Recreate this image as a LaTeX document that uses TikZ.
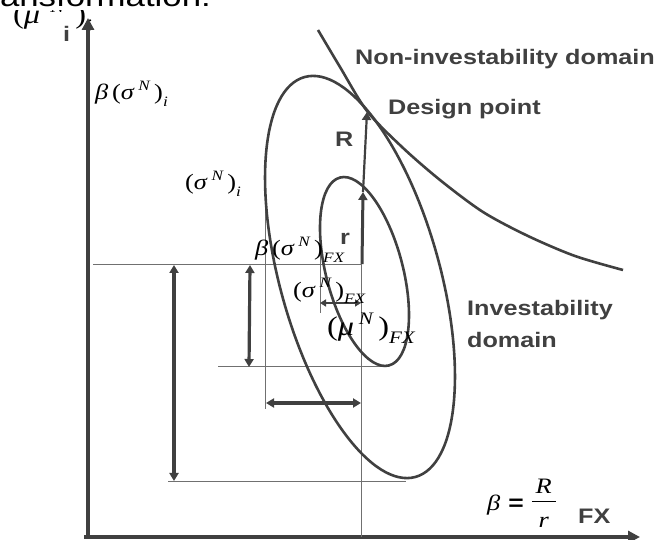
\documentclass[tikz,border=0pt]{standalone}
\usepackage{fontspec}
\setsansfont{Liberation Sans}
\newfontfamily\capfont[FakeStretch=1.2]{Liberation Sans}
\newfontfamily\eqfont[FakeStretch=1.2]{Liberation Serif}
\usetikzlibrary{arrows.meta}
\definecolor{inkgray}{HTML}{404040}
\definecolor{linegray}{HTML}{707070}
\newcommand{\up}[1]{\raisebox{0.42em}{\scalebox{0.65}{#1}}}
\newcommand{\dn}[1]{\raisebox{-0.3em}{\scalebox{0.65}{#1}}}
\tikzset{
  contour/.style={draw=inkgray, line width=2.6pt},
  guide/.style={draw=linegray, line width=0.9pt},
  span/.style={{Triangle[length=8pt,width=9pt]}-{Triangle[length=8pt,width=9pt]}, draw=inkgray, line width=3.2pt},
  ray/.style={-{Triangle[length=8pt,width=9pt]}, draw=inkgray, line width=3pt},
  axis/.style={-{Triangle[length=12pt,width=12pt]}, draw=inkgray, line width=4pt},
  caption/.style={font=\fontsize{21}{32}\selectfont\capfont\bfseries, text=inkgray, inner sep=0pt},
  formula/.style={font=\fontsize{22}{24}\selectfont\eqfont, inner sep=0pt, anchor=west},
  bigformula/.style={formula, font=\fontsize{27}{30}\selectfont\eqfont}
}
\begin{document}
\begin{tikzpicture}[x=1pt, y=-1pt]
\useasboundingbox (0,0) rectangle (657,540);
\clip (0,0) rectangle (657,540);

% Clipped slide text at the top (its box hides the top of the label).
\node[bigformula] (mui) at (13,16) {(\textit{μ}\hspace{10pt}\up{\textit{N}}\hspace{10pt})\dn{\textit{i}}};
\node[font=\fontsize{29}{32}\selectfont\capfont, text=black, fill=white, inner sep=0pt, outer sep=0pt, anchor=base west] (slidetitle) at (0,7) {ansformation:};
\fill[white] (0,7) rectangle (210,10);
\node[caption, anchor=base west] (ilabel) at (63,42) {i};

% Key points.
\coordinate (origin) at (88,537);
\coordinate (ytip) at (88,18);
\coordinate (xtip) at (640,537);
\coordinate (centre) at (362,264);
\coordinate (inner top) at (363,192);
\coordinate (design) at (367,112);

% Axes.
\draw[axis] (origin) -- (ytip);
\draw[axis] (84,537) -- (xtip);

% Guide lines.
\draw[guide] (93,264) -- (centre);
\draw[guide] (218,366) -- (388,366);
\draw[guide] (168,481) -- (406,481);
\draw[guide] (361,264) -- (361,537);
\draw[guide] (265,175) -- (265,409);
\draw[guide] (320,235) -- (320,313);

% Contours.
\draw[contour] (360,277) circle [x radius=80pt, y radius=207.5pt, rotate=15.5];
\draw[contour] (364.5,271.5) circle [x radius=38.4pt, y radius=97.1pt, rotate=14.6];
\draw[contour] plot[smooth] coordinates {(318,30) (340,67) (367,111) (402,147) (440,180) (483,212) (528,236) (575,256) (623,270)};

% Spans.
\draw[span] (174,265) -- (174,481);
\draw[span] (250,265) -- (249,367);
\draw[span] (266,403) -- (361,403);
\draw[span, line width=2.4pt, {Triangle[length=6pt,width=7pt]}-{Triangle[length=6pt,width=7pt]}] (320,303) -- (361,303);
\draw[ray] (centre) -- (inner top);
\draw[ray, line width=2.2pt] (inner top) -- (design);

% Labels.
\node[formula] (betasigi) at (95,94) {\textit{β}\,(\textit{σ}\,\up{\textit{N}}\,)\dn{\textit{i}}};
\node[formula] (sigi) at (185,184) {(\textit{σ}\,\up{\textit{N}}\,)\dn{\textit{i}}};
\node[formula] (betasigfx) at (255,250) {\textit{β}\,(\textit{σ}\,\up{\textit{N}}\,)\dn{\textit{FX}}};
\node[formula] (sigfx) at (293,291) {(\textit{σ}\,\up{\textit{N}}\,)\dn{\textit{FX}}};
\node[bigformula] (mufx) at (327,328) {(\textit{μ}\,\up{\textit{N}}\,)\dn{\textit{FX}}};
\node[formula, anchor=base west] (ratio) at (487,511) {\textit{β}\hspace{8pt}{\capfont\bfseries =}\hspace{8pt}\begin{tabular}{@{}c@{}}\rule[-8pt]{0pt}{20pt}\makebox[24pt]{\textit{R}}\\\hline\rule[-4pt]{0pt}{30pt}\textit{r}\end{tabular}};
\node[caption, anchor=base west] (fx) at (578,523) {FX};
\node[caption, anchor=base west] (noninv) at (355,65) {Non-investability domain};
\node[caption, anchor=base west] (designlabel) at (388,115) {Design point};
\node[caption, anchor=base west] (bigr) at (335,147) {R};
\node[caption, anchor=base west] (smallr) at (340,245) {r};
\node[caption, anchor=north west, align=left] (inv) at (467,300) {Investability\\domain};

\end{tikzpicture}
\end{document}
